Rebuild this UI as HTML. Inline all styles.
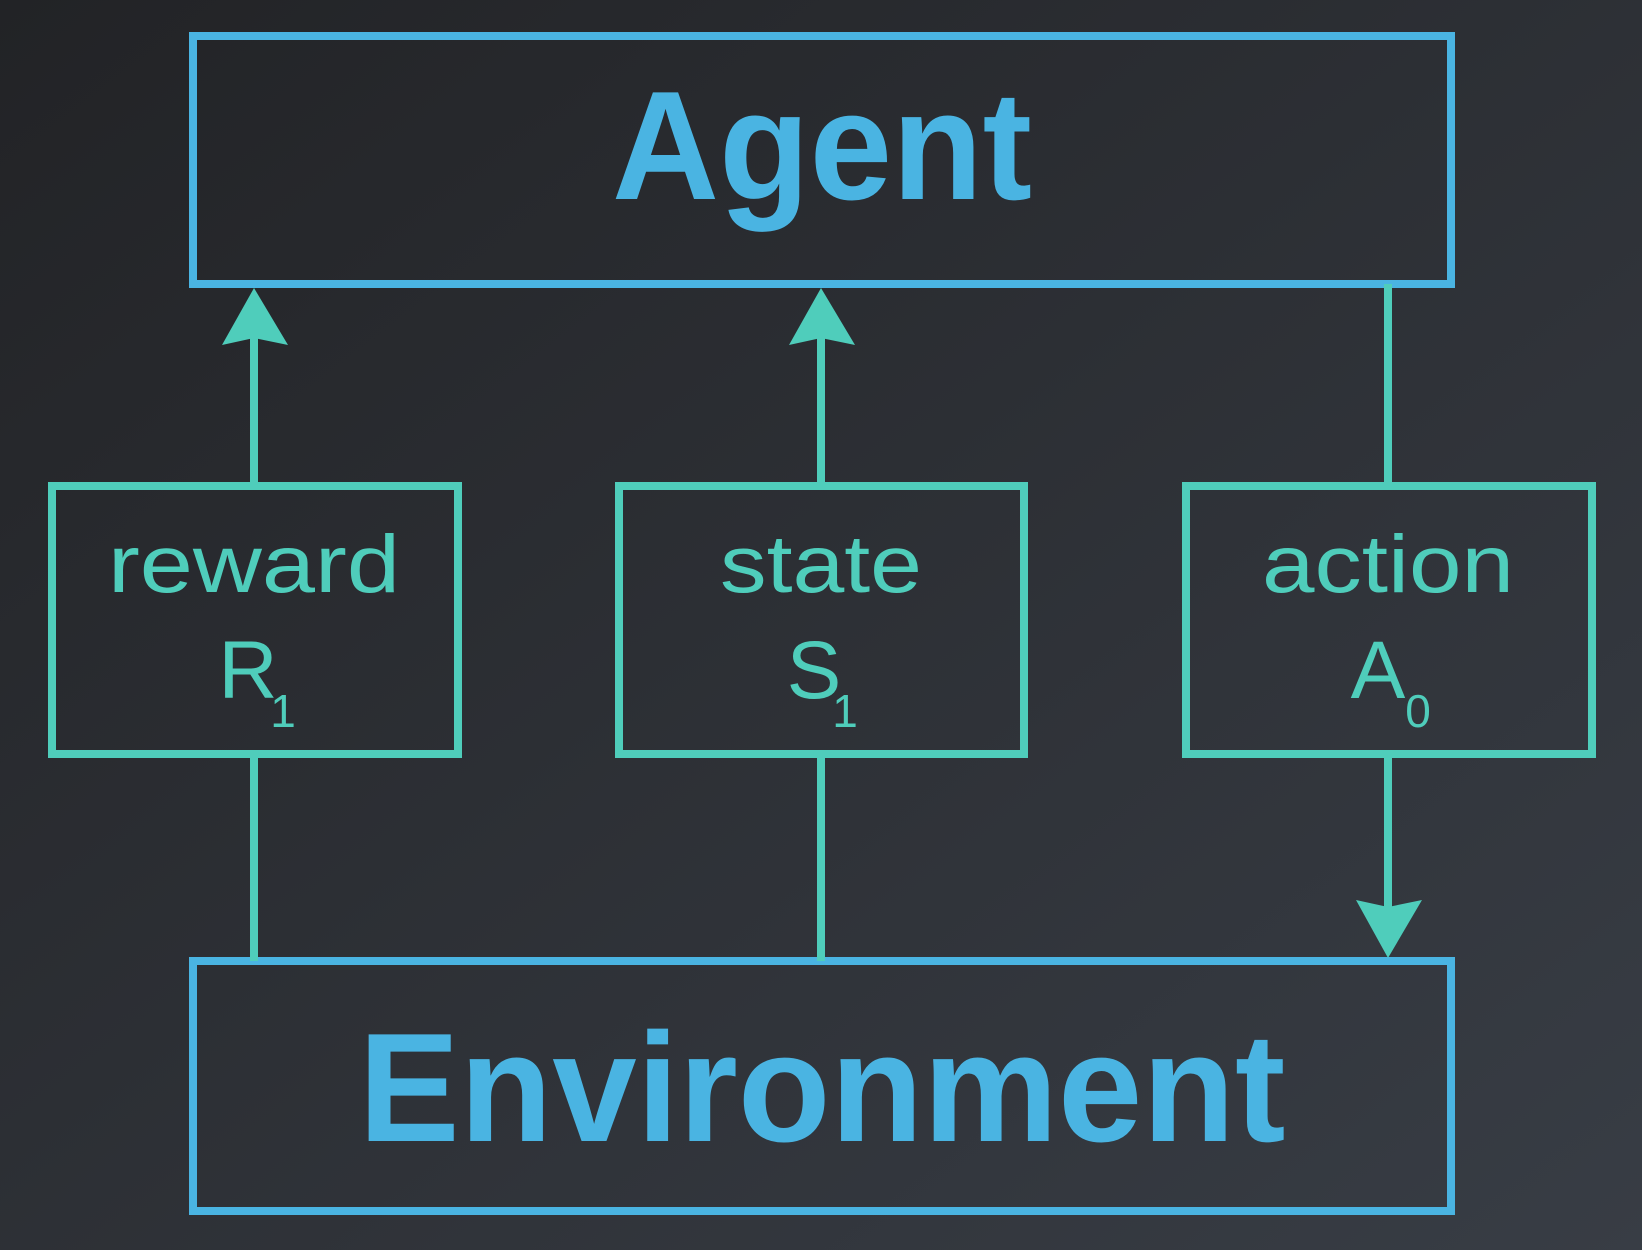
<!DOCTYPE html>
<html><head><meta charset="utf-8"><style>
html,body{margin:0;padding:0;width:1642px;height:1250px;overflow:hidden}
</style></head><body>
<svg width="1642" height="1250" viewBox="0 0 1642 1250" xmlns="http://www.w3.org/2000/svg">
<defs><linearGradient id="bg" x1="0" y1="0" x2="1" y2="1">
<stop offset="0" stop-color="#222326"/><stop offset="1" stop-color="#383d45"/></linearGradient></defs>
<rect width="1642" height="1250" fill="url(#bg)"/>
<g fill="none" stroke="#4ab4e2" stroke-width="8">
<rect x="193" y="36" width="1258" height="248"/>
<rect x="193" y="961" width="1258" height="250"/>
</g>
<g fill="none" stroke="#4fcdbb" stroke-width="8">
<rect x="52" y="486" width="406" height="268"/>
<rect x="619" y="486" width="405" height="268"/>
<rect x="1186" y="486" width="406" height="268"/>
<line x1="254" y1="330" x2="254" y2="486"/>
<line x1="254" y1="754" x2="254" y2="961"/>
<line x1="821" y1="330" x2="821" y2="486"/>
<line x1="821" y1="754" x2="821" y2="961"/>
<line x1="1388" y1="284" x2="1388" y2="486"/>
<line x1="1388" y1="754" x2="1388" y2="910"/>
</g>
<g fill="#4fcdbb">
<polygon points="254,288 222,345 254,338 288,345"/>
<polygon points="821,288 789,345 821,338 855,345"/>
<polygon points="1388,958 1356,900 1388,907 1422,900"/>
</g>
<g font-family="Liberation Sans, sans-serif" text-anchor="middle">
<text x="822" y="199" font-size="155" font-weight="bold" fill="#4ab4e2" textLength="420" lengthAdjust="spacingAndGlyphs">Agent</text>
<text x="822" y="1141" font-size="155" font-weight="bold" fill="#4ab4e2" textLength="927" lengthAdjust="spacingAndGlyphs">Environment</text>
<g fill="#4fcdbb" font-size="82">
<text x="254" y="592" textLength="292" lengthAdjust="spacingAndGlyphs">reward</text>
<text x="821" y="592" textLength="202" lengthAdjust="spacingAndGlyphs">state</text>
<text x="1388" y="592" textLength="252" lengthAdjust="spacingAndGlyphs">action</text>
<text x="248" y="698">R</text>
<text x="814" y="698">S</text>
<text x="1378" y="698">A</text>
</g>
<g fill="#4fcdbb" font-size="46">
<text x="283" y="727">1</text>
<text x="845" y="727">1</text>
<text x="1418" y="727">0</text>
</g>
</g>
</svg>
</body></html>
